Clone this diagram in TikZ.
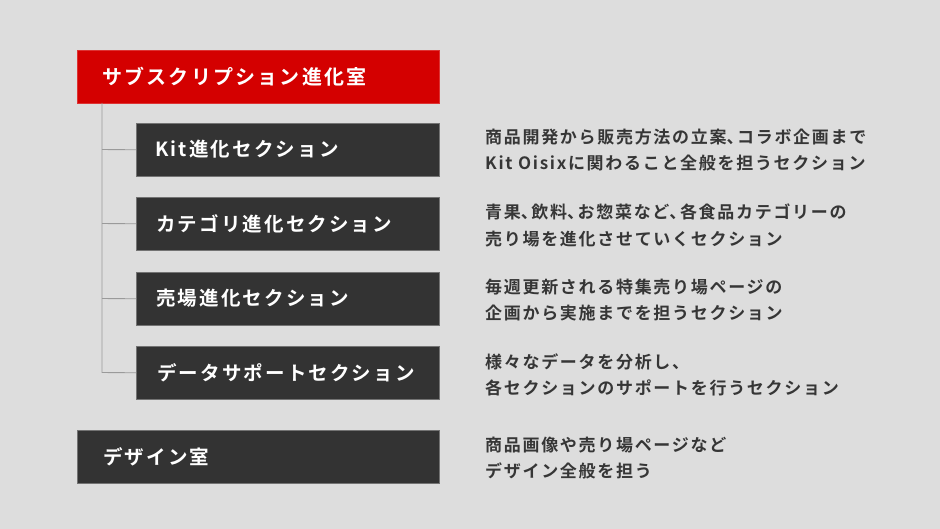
\documentclass[tikz,border=0pt]{standalone}
\usepackage{fontspec}
\setmainfont{Noto Sans CJK JP}
\newfontfamily\jpbold{Noto Sans CJK JP Bold}[LetterSpace=11]
\newfontfamily\jpdesc{Noto Sans CJK JP Bold}[LetterSpace=10]
\newcommand\tou{\makebox[0.62em][l]{、}}
\definecolor{bg}{HTML}{DDDDDD}
\definecolor{redbox}{HTML}{D40000}
\definecolor{darkbox}{HTML}{333333}
\definecolor{desc}{HTML}{363636}
\definecolor{conn}{HTML}{9A9A9A}
\tikzset{
  boxbase/.style={draw=black!55, line width=0.6pt, minimum height=53pt, anchor=north west, inner sep=0pt},
  redstyle/.style={boxbase, fill=redbox, draw=redbox!80!white, minimum width=362pt},
  secbox/.style={boxbase, fill=darkbox, minimum width=303pt},
  roombox/.style={boxbase, fill=darkbox, minimum width=362pt},
  title/.style={anchor=west, text=white, font=\jpbold\fontsize{19.5}{22}\selectfont, inner sep=0pt},
  redtitle/.style={title, font=\jpbold\fontsize{20}{22}\selectfont},
  desctext/.style={anchor=west, align=left, text=desc, font=\jpdesc\fontsize{17}{26.5}\selectfont, inner sep=0pt},
  connector/.style={draw=conn, line width=0.9pt}
}
\begin{document}
\begin{tikzpicture}[x=1pt,y=-1pt]
\fill[bg] (0,0) rectangle (940,529);
\useasboundingbox (0,0) rectangle (940,529);

\node[redstyle] (sub) at (77,50) {};
\node[secbox] (kit) at (136,123) {};
\node[secbox] (cat) at (136,197) {};
\node[secbox] (uri) at (136,272) {};
\node[secbox] (dat) at (136,346) {};
\node[roombox] (des) at (77,430) {};

\node[redtitle] (subt) at (102,76.5) {サブスクリプション進化室};
\node[title] (kitt) at (155,149.5) {Kit進化セクション};
\node[title] (catt) at (156,223.5) {カテゴリ進化セクション};
\node[title] (urit) at (156,298.5) {売場進化セクション};
\node[title] (datt) at (157,372.5) {データサポートセクション};
\node[title] (dest) at (103,457) {デザイン室};

\coordinate (trunk) at (102,103);
\coordinate (tkit) at (102,149.5);
\coordinate (tcat) at (102,223.5);
\coordinate (turi) at (102,298.5);
\coordinate (tdat) at (102,372.5);
\draw[connector] (trunk) -- (tdat) -- (dat.west);
\draw[connector] (tkit) -- (kit.west);
\draw[connector] (tcat) -- (cat.west);
\draw[connector] (turi) -- (uri.west);

\node[desctext] (kitd) at (485,150) {商品開発から販売方法の立案\tou コラボ企画まで\\Kit Oisixに関わること全般を担うセクション};
\node[desctext] (catd) at (485,225.5) {青果\tou 飲料\tou お惣菜など\tou 各食品カテゴリーの\\売り場を進化させていくセクション};
\node[desctext] (urid) at (485,300) {毎週更新される特集売り場ページの\\企画から実施までを担うセクション};
\node[desctext] (datd) at (485,375) {様々なデータを分析し、\\各セクションのサポートを行うセクション};
\node[desctext] (desd) at (485,458) {商品画像や売り場ページなど\\デザイン全般を担う};
\end{tikzpicture}
\end{document}
